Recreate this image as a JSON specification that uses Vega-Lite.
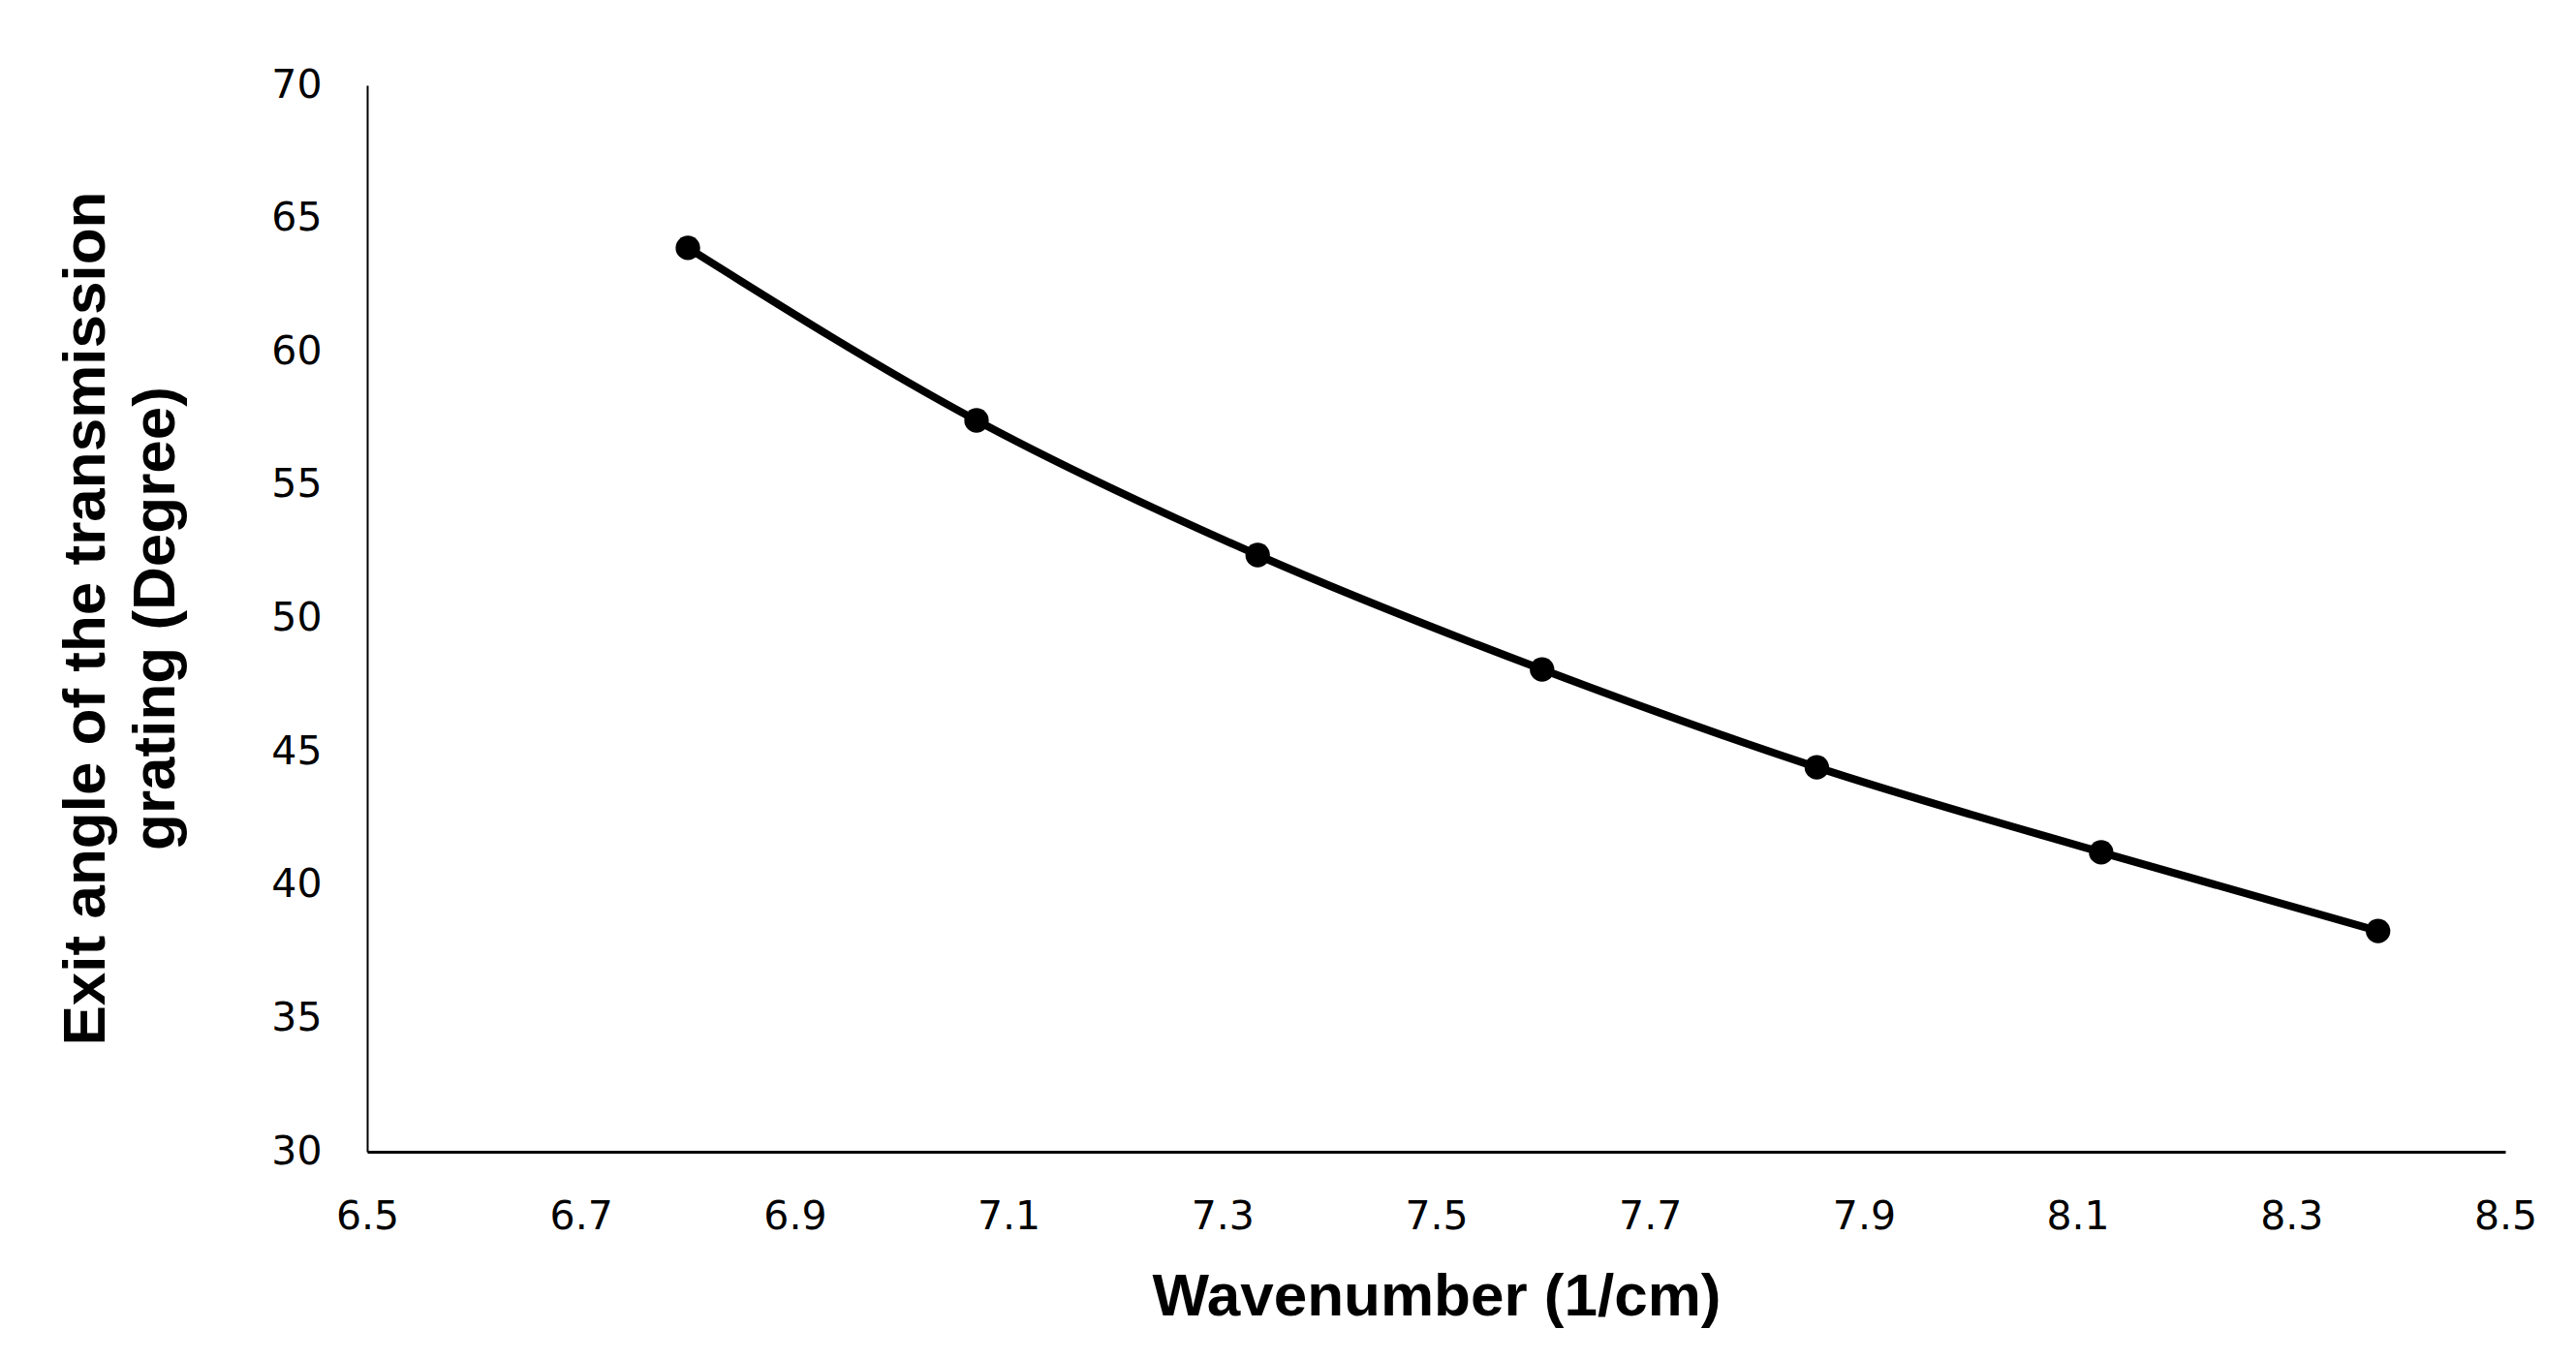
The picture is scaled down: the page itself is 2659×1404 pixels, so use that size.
{
  "$schema": "https://vega.github.io/schema/vega-lite/v6.json",
  "autosize": {"type": "none"},
  "width": 2207,
  "height": 1101,
  "padding": {"left": 379, "top": 88, "right": 73, "bottom": 215},
  "background": "white",
  "config": {"view": {"stroke": null}},
  "data": {
    "values": [
      {"wavenumber": 6.80, "angle": 63.90},
      {"wavenumber": 7.07, "angle": 57.43},
      {"wavenumber": 7.333, "angle": 52.38},
      {"wavenumber": 7.599, "angle": 48.09},
      {"wavenumber": 7.856, "angle": 44.42},
      {"wavenumber": 8.122, "angle": 41.23},
      {"wavenumber": 8.381, "angle": 38.28}
    ]
  },
  "encoding": {
    "x": {
      "field": "wavenumber",
      "type": "quantitative",
      "scale": {"domain": [6.5, 8.5], "nice": false, "zero": false},
      "axis": {
        "values": [6.5, 6.7, 6.9, 7.1, 7.3, 7.5, 7.7, 7.9, 8.1, 8.3, 8.5],
        "format": ".1f",
        "grid": false,
        "ticks": false,
        "tickSize": 0,
        "domainColor": "black",
        "domainWidth": 3,
        "labelFont": "DejaVu Sans",
        "labelFontSize": 41,
        "labelColor": "black",
        "labelPadding": 47,
        "labelFlush": false,
        "labelOverlap": false,
        "title": "Wavenumber (1/cm)",
        "titleFont": "Liberation Sans",
        "titleFontSize": 62,
        "titleFontWeight": "bold",
        "titleColor": "black",
        "titleBaseline": "alphabetic",
        "titleY": 168
      }
    },
    "y": {
      "field": "angle",
      "type": "quantitative",
      "scale": {"domain": [30, 70], "nice": false, "zero": false},
      "axis": {
        "values": [30, 35, 40, 45, 50, 55, 60, 65, 70],
        "grid": false,
        "ticks": false,
        "tickSize": 0,
        "domainColor": "black",
        "domainWidth": 2,
        "labelFont": "DejaVu Sans",
        "labelFontSize": 41,
        "labelColor": "black",
        "labelPadding": 47,
        "labelFlush": false,
        "labelOverlap": false,
        "title": ["Exit angle of the transmission", "grating (Degree)"],
        "titleFont": "Liberation Sans",
        "titleFontSize": 62,
        "titleFontWeight": "bold",
        "titleColor": "black",
        "titleLineHeight": 72,
        "titleBaseline": "alphabetic",
        "titleX": -272,
        "titleY": 550
      }
    }
  },
  "layer": [
    {
      "mark": {"type": "line", "interpolate": "monotone", "color": "black", "strokeWidth": 8}
    },
    {
      "mark": {"type": "point", "filled": true, "color": "black", "opacity": 1, "size": 640}
    }
  ]
}
